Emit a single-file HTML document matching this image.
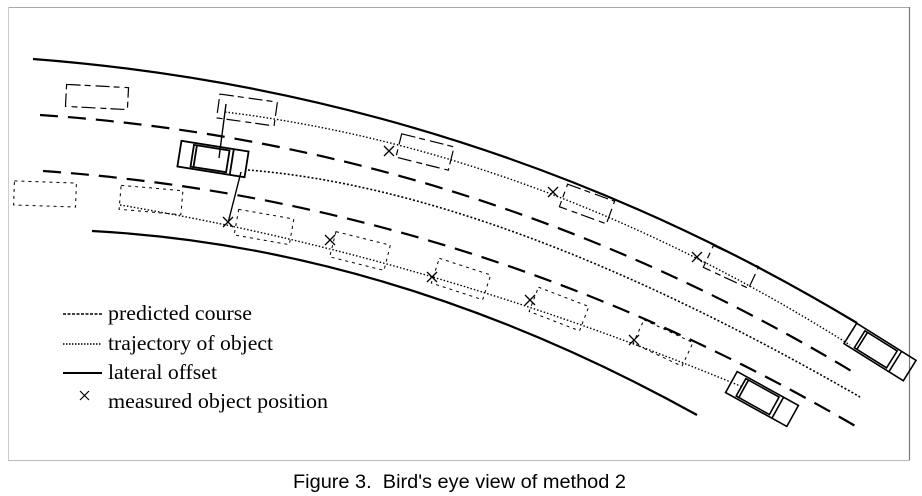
<!DOCTYPE html>
<html><head><meta charset="utf-8"><style>
html,body{margin:0;padding:0;background:#fff;width:922px;height:496px;overflow:hidden}
svg{display:block}
</style></head><body>
<svg width="922" height="496" viewBox="0 0 922 496" xmlns="http://www.w3.org/2000/svg">
<line x1="8" y1="7.5" x2="910" y2="7.5" stroke="#aaa" stroke-width="1"/>
<line x1="8.5" y1="7" x2="8.5" y2="461" stroke="#ccc" stroke-width="1"/>
<line x1="909.5" y1="7" x2="909.5" y2="461" stroke="#777" stroke-width="1.2"/>
<line x1="8" y1="460.5" x2="910" y2="460.5" stroke="#bbb" stroke-width="1"/>
<g fill="none" stroke="#000">
<path d="M33,59 Q475,93 857,323" stroke-width="2.2"/>
<path d="M92,231 Q394,247 697,415" stroke-width="2.2"/>
<path d="M40,115 Q473,144 853,372" stroke-width="2.2" stroke-dasharray="18,10"/>
<path d="M43,171 Q470,201 857,427" stroke-width="2.2" stroke-dasharray="18,10"/>
<path d="M248,170 Q500,190 860,397" stroke-width="1.6" stroke-dasharray="2,2"/>
<path d="M225,112 Q542,151 850,345" stroke-width="1.4" stroke-dasharray="1.5,2"/>
<path d="M120,205 Q431,257 745,388" stroke-width="1.4" stroke-dasharray="1.5,2"/>
<g stroke-width="1.2" stroke-dasharray="14,4,6,5">
<rect x="66" y="86" width="62" height="22" transform="rotate(3 97 97)"/>
<rect x="218" y="98" width="58" height="24" transform="rotate(8 247 110)"/>
<rect x="398" y="140" width="54" height="24" transform="rotate(14 425 152)"/>
<rect x="562" y="192" width="50" height="24" transform="rotate(20 587 204)"/>
<rect x="706" y="255" width="50" height="24" transform="rotate(25 731 267)"/>
</g>
<g stroke-width="1" stroke-dasharray="3,4">
<rect x="14" y="182" width="62" height="24" transform="rotate(2 45 194)"/>
<rect x="120" y="188" width="62" height="24" transform="rotate(5 151 200)"/>
<rect x="236" y="214" width="56" height="26" transform="rotate(10 264 227)"/>
<rect x="332" y="238" width="56" height="26" transform="rotate(14 360 251)"/>
<rect x="434" y="266" width="54" height="26" transform="rotate(18 461 279)"/>
<rect x="532" y="296" width="54" height="26" transform="rotate(21 559 309)"/>
<rect x="636" y="330" width="54" height="26" transform="rotate(25 663 343)"/>
</g>
<g transform="rotate(9 213 159)" stroke-width="1.8">
<rect x="179" y="146" width="68" height="26"/>
<rect x="192" y="148" width="36" height="22"/>
<line x1="195" y1="148" x2="195" y2="170"/>
<line x1="232" y1="146" x2="232" y2="172"/>
</g>
<g transform="rotate(29 762 399)" stroke-width="1.6">
<rect x="727" y="387" width="70" height="24"/>
<rect x="738" y="389" width="38" height="20"/>
<line x1="741" y1="389" x2="741" y2="409"/>
<line x1="780" y1="387" x2="780" y2="411"/>
</g>
<g transform="rotate(32 880 352)" stroke-width="1.6">
<rect x="845" y="340" width="70" height="24"/>
<rect x="856" y="342" width="38" height="20"/>
<line x1="859" y1="342" x2="859" y2="362"/>
<line x1="898" y1="340" x2="898" y2="364"/>
</g>
<line x1="226" y1="104" x2="219" y2="158" stroke-width="1.4"/>
<line x1="241" y1="172" x2="228" y2="223" stroke-width="1.4"/>
<g stroke-width="1.3">
<path d="M384,146 l10,10 M394,146 l-10,10"/>
<path d="M548,187 l10,10 M558,187 l-10,10"/>
<path d="M692,252 l10,10 M702,252 l-10,10"/>
<path d="M223,217 l10,10 M233,217 l-10,10"/>
<path d="M325,235 l10,10 M335,235 l-10,10"/>
<path d="M427,272 l10,10 M437,272 l-10,10"/>
<path d="M525,295 l10,10 M535,295 l-10,10"/>
<path d="M629,335 l10,10 M639,335 l-10,10"/>
</g>
<line x1="63" y1="314" x2="102" y2="314" stroke-width="1.4" stroke-dasharray="3,1.5"/>
<line x1="63" y1="344" x2="102" y2="344" stroke-width="1.4" stroke-dasharray="1.5,1.5"/>
<line x1="63" y1="373" x2="102" y2="373" stroke-width="2"/>
<path d="M80,391 l9,9 M89,391 l-9,9" stroke-width="1.2"/>
</g>
<g font-family="Liberation Serif, serif" font-size="21.5" fill="#000">
<text x="108" y="320" textLength="144" lengthAdjust="spacingAndGlyphs">predicted course</text>
<text x="108" y="350" textLength="165" lengthAdjust="spacingAndGlyphs">trajectory of object</text>
<text x="108" y="379" textLength="109" lengthAdjust="spacingAndGlyphs">lateral offset</text>
<text x="108" y="408" textLength="220" lengthAdjust="spacingAndGlyphs">measured object position</text>
</g>
<text x="293" y="488" textLength="333" lengthAdjust="spacingAndGlyphs" font-family="Liberation Sans, sans-serif" font-size="19.5" fill="#000" xml:space="preserve">Figure 3.  Bird's eye view of method 2</text>
</svg>
</body></html>
